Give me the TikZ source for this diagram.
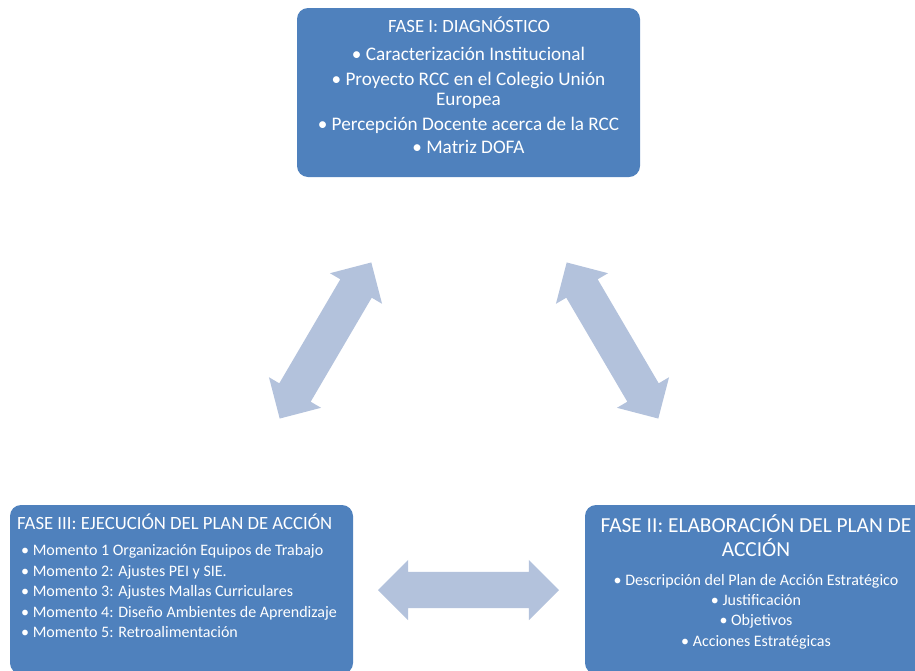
\documentclass[tikz,border=0pt]{standalone}
\usepackage{fontspec}
\setmainfont{Carlito}
\usetikzlibrary{shapes.arrows,positioning}
\definecolor{faseazul}{RGB}{79,129,189}
\definecolor{flechaazul}{RGB}{179,194,220}

\begin{document}
\begin{tikzpicture}[x=1pt,y=-1pt,
    fase/.style={shape=rectangle,rounded corners=11pt,fill=faseazul,minimum width=343pt,minimum height=169pt,inner sep=0pt},
    texto/.style={text=white,inner sep=0pt},
    flecha/.style={shape=double arrow,fill=flechaazul,minimum height=181pt,minimum width=60pt,double arrow head extend=12pt,inner xsep=0pt,inner ysep=18pt}]
    \clip (0,0) rectangle (915,670);

    \node[fase] (F1) at (468.5,92.5) {};
    \node[fase] (F3) at (181.5,589.5) {};
    \node[fase] (F2) at (756.5,589.5) {};

    % fase I
    \node[texto,font=\fontsize{18.7}{22}\selectfont] (TF1) at (469,25) {FASE I: DIAGNÓSTICO};
    \node[texto,align=center,anchor=north,font=\fontsize{19.2}{20}\selectfont] (LF1) at (468.5,46.5) {• Caracterización Institucional\\[5pt]
        • Proyecto RCC en el Colegio Unión\\ Europea\\[5pt]
        • Percepción Docente acerca de la RCC\\[3pt]
        • Matriz DOFA};
    % fase III
    \node[texto,anchor=west,font=\fontsize{18.7}{22}\selectfont] (TF3) at (17,522) {FASE III: EJECUCIÓN DEL PLAN DE ACCIÓN};
    \node[texto,align=left,anchor=north west,font=\fontsize{16}{20.5}\selectfont] (LF3) at (21,544.5) {• Momento 1 Organización Equipos de Trabajo\\
        • Momento 2: Ajustes PEI y SIE.\\
        • Momento 3: Ajustes Mallas Curriculares\\
        • Momento 4: Diseño Ambientes de Aprendizaje\\
        • Momento 5: Retroalimentación};
    % fase II
    \node[texto,align=center,font=\fontsize{21.4}{24}\selectfont] (TF2) at (756,536) {FASE II: ELABORACIÓN DEL PLAN DE\\ ACCIÓN};
    \node[texto,align=center,anchor=north,font=\fontsize{16}{20.3}\selectfont] (LF2) at (756,574) {• Descripción del Plan de Acción Estratégico\\
        • Justificación\\
        • Objetivos\\
        • Acciones Estratégicas};

    \node[flecha,rotate=59.6] (A) at (325.5,340.5) {};
    \node[flecha,rotate=-59.6] (B) at (612.5,340.5) {};
    \node[flecha] (C) at (468.5,590) {};
\end{tikzpicture}
\end{document}
